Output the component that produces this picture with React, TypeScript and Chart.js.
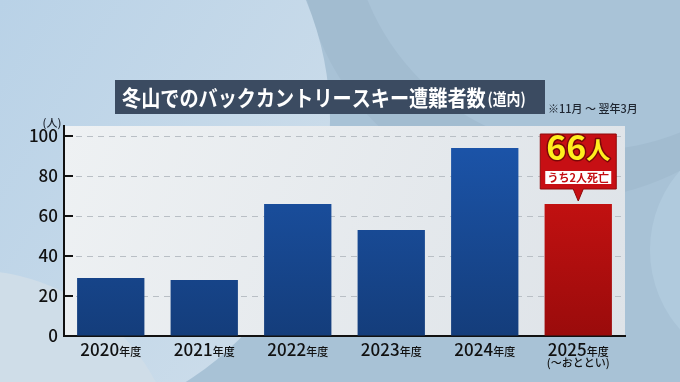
import React, { useEffect, useRef } from "react";
import { Chart, registerables } from "chart.js";

Chart.register(...registerables);

// ---- data ----
const categories = ["2020", "2021", "2022", "2023", "2024", "2025"];
const categorySuffix = "年度";
const subLabels = ["", "", "", "", "", "(〜おととい)"];
const values = [29, 28, 66, 53, 94, 66];
const yTickValues = [0, 20, 40, 60, 80, 100];
const titleMain = "冬山でのバックカントリースキー遭難者数";
const titleSub = "(道内)";
const noteText = "※11月 〜 翌年3月";
const unitLabel = "(人)";
const calloutValue = "66";
const calloutUnit = "人";
const calloutSub = "うち2人死亡";
const highlightIndex = 5;

const JP = '"Noto Sans CJK JP", "Noto Sans", sans-serif';

const bgPlugin = {
  id: "bgPlugin",
  beforeDraw(chart: any) {
    const ctx = chart.ctx as CanvasRenderingContext2D;
    const W = chart.width;
    const H = chart.height;
    ctx.save();
    ctx.fillStyle = "#a8c2d6";
    ctx.fillRect(0, 0, W, H);
    // right-top darker-ish sliver + lighter circle
    ctx.fillStyle = "#a2bcd0";
    ctx.beginPath();
    ctx.arc(560, -60, 260, 0, Math.PI * 2);
    ctx.fill();
    ctx.fillStyle = "#a9c3d7";
    ctx.beginPath();
    ctx.arc(590, -90, 240, 0, Math.PI * 2);
    ctx.fill();
    // right circle
    ctx.fillStyle = "#b0cadd";
    ctx.beginPath();
    ctx.arc(770, 250, 120, 0, Math.PI * 2);
    ctx.fill();
    // big light circle left
    const g1 = ctx.createLinearGradient(0, 0, 330, 200);
    g1.addColorStop(0, "#b9d2e7");
    g1.addColorStop(1, "#cbdcea");
    ctx.fillStyle = g1;
    ctx.beginPath();
    ctx.arc(20, 120, 310, 0, Math.PI * 2);
    ctx.fill();
    // lower-left light circle
    ctx.fillStyle = "#cfdde8";
    ctx.beginPath();
    ctx.arc(-30, 480, 210, 0, Math.PI * 2);
    ctx.fill();
    // plot panel
    const a = chart.chartArea;
    const pg = ctx.createLinearGradient(a.left, a.top, a.right, a.bottom);
    pg.addColorStop(0, "#eef1f3");
    pg.addColorStop(1, "#dee3e8");
    ctx.fillStyle = pg;
    ctx.fillRect(a.left, a.top, a.right - a.left, a.bottom - a.top);

    // title box
    ctx.fillStyle = "#3b4b61";
    ctx.fillRect(115, 80, 430, 34);
    ctx.fillStyle = "#ffffff";
    ctx.textBaseline = "middle";
    ctx.textAlign = "left";
    ctx.save();
    ctx.translate(122, 98);
    ctx.scale(0.87, 1);
    ctx.font = `bold 22px ${JP}`;
    ctx.fillText(titleMain, 0, 0);
    const w = ctx.measureText(titleMain).width;
    ctx.font = `bold 16px ${JP}`;
    ctx.fillText(titleSub, w + 2, 1);
    ctx.restore();

    // note
    ctx.fillStyle = "#1e2530";
    ctx.font = `500 11px ${JP}`;
    ctx.textBaseline = "alphabetic";
    ctx.fillText(noteText, 548, 113);

    // unit label
    ctx.font = `500 11px ${JP}`;
    ctx.textAlign = "center";
    ctx.fillText(unitLabel, 52, 127);
    ctx.restore();
  },
  afterDraw(chart: any) {
    const ctx = chart.ctx as CanvasRenderingContext2D;
    const a = chart.chartArea;
    const yS = chart.scales.y;
    const xS = chart.scales.x;
    ctx.save();
    // inner tick marks
    ctx.strokeStyle = "#111";
    ctx.lineWidth = 2;
    yTickValues.forEach((v) => {
      if (v === 0) return;
      const py = Math.round(yS.getPixelForValue(v));
      ctx.beginPath();
      ctx.moveTo(a.left, py);
      ctx.lineTo(a.left + 9, py);
      ctx.stroke();
    });

    // x labels
    categories.forEach((c, i) => {
      const px = xS.getPixelForTick(i);
      ctx.font = `500 17px ${JP}`;
      const w1 = ctx.measureText(c).width;
      ctx.font = `500 11px ${JP}`;
      const w2 = ctx.measureText(categorySuffix).width;
      const start = px - (w1 + w2) / 2;
      ctx.fillStyle = "#111";
      ctx.textBaseline = "alphabetic";
      ctx.textAlign = "left";
      ctx.font = `500 17px ${JP}`;
      ctx.fillText(c, start, 356);
      ctx.font = `500 11px ${JP}`;
      ctx.fillText(categorySuffix, start + w1, 356);
      if (subLabels[i]) {
        ctx.textAlign = "center";
        ctx.font = `500 11px ${JP}`;
        ctx.fillText(subLabels[i], px, 367);
      }
    });

    // callout
    const bar = chart.getDatasetMeta(0).data[highlightIndex];
    const bx = bar.x;
    const by = bar.y;
    const boxW = 76;
    const boxTop = by - 70;
    const boxBot = by - 15;
    ctx.fillStyle = "#c70f14";
    ctx.strokeStyle = "#8e0a0a";
    ctx.lineWidth = 1;
    ctx.beginPath();
    ctx.moveTo(bx - boxW / 2, boxTop);
    ctx.lineTo(bx + boxW / 2, boxTop);
    ctx.lineTo(bx + boxW / 2, boxBot);
    ctx.lineTo(bx + 5, boxBot);
    ctx.lineTo(bx, by - 3);
    ctx.lineTo(bx - 5, boxBot);
    ctx.lineTo(bx - boxW / 2, boxBot);
    ctx.closePath();
    ctx.fill();
    ctx.stroke();

    ctx.font = `bold 34px ${JP}`;
    const wv = ctx.measureText(calloutValue).width;
    ctx.font = `bold 24px ${JP}`;
    const wu = ctx.measureText(calloutUnit).width;
    const sx = bx - (wv + wu) / 2;
    ctx.textAlign = "left";
    ctx.textBaseline = "alphabetic";
    ctx.lineJoin = "round";
    ctx.strokeStyle = "#7a0808";
    ctx.lineWidth = 3;
    ctx.fillStyle = "#ffee1e";
    ctx.font = `bold 34px ${JP}`;
    ctx.strokeText(calloutValue, sx, boxTop + 26);
    ctx.fillText(calloutValue, sx, boxTop + 26);
    ctx.font = `bold 24px ${JP}`;
    ctx.strokeText(calloutUnit, sx + wv, boxTop + 25);
    ctx.fillText(calloutUnit, sx + wv, boxTop + 25);

    ctx.fillStyle = "#ffffff";
    ctx.fillRect(bx - 33, boxTop + 37, 66, 13);
    ctx.fillStyle = "#c40d12";
    ctx.font = `bold 11px ${JP}`;
    ctx.textAlign = "center";
    ctx.textBaseline = "middle";
    ctx.fillText(calloutSub, bx, boxTop + 44);
    ctx.restore();
  },
};

function barColor(ctx: any) {
  const chart = ctx.chart;
  const a = chart.chartArea;
  const red = ctx.dataIndex === highlightIndex;
  if (!a) return red ? "#c41010" : "#1a4f9e";
  const g = chart.ctx.createLinearGradient(0, a.top, 0, a.bottom);
  if (red) {
    g.addColorStop(0, "#d81414");
    g.addColorStop(1, "#9a0b0b");
  } else {
    g.addColorStop(0, "#1c56ad");
    g.addColorStop(1, "#143d7b");
  }
  return g;
}

export default function App() {
  const ref = useRef<HTMLCanvasElement | null>(null);
  useEffect(() => {
    document.body.style.margin = "0";
    const canvas = ref.current!;
    const chart = new Chart(canvas, {
      type: "bar",
      data: {
        labels: categories.map((c) => c + categorySuffix),
        datasets: [
          {
            data: values,
            backgroundColor: barColor,
            borderWidth: 0,
            barPercentage: 0.72,
            categoryPercentage: 1,
          },
        ],
      },
      options: {
        responsive: false,
        animation: false,
        devicePixelRatio: 1,
        layout: { padding: { top: 126, right: 55, left: 0, bottom: 0 } },
        plugins: {
          legend: { display: false },
          tooltip: { enabled: false },
          title: { display: false },
        },
        scales: {
          x: {
            grid: { display: false, drawTicks: false },
            border: { display: true, color: "#111", width: 2 },
            ticks: { display: false },
            afterFit: (s: any) => {
              s.height = 46;
            },
          },
          y: {
            min: 0,
            max: 105,
            ticks: {
              stepSize: 20,
              color: "#111",
              padding: 6,
              font: { family: JP, size: 17, weight: "500" as any },
            },
            afterBuildTicks: (s: any) => {
              s.ticks = yTickValues.map((v) => ({ value: v }));
            },
            grid: {
              color: (c: any) => (c.tick && c.tick.value === 0 ? "rgba(0,0,0,0)" : "#b9bfc5"),
              drawTicks: false,
              lineWidth: 1,
            },
            border: { display: true, color: "#111", width: 2, dash: [6, 5] } as any,
            afterFit: (s: any) => {
              s.width = 64;
            },
          },
        },
      },
      plugins: [bgPlugin],
    });
    return () => chart.destroy();
  }, []);
  return (
    <div style={{ position: "absolute", left: 0, top: 0, width: 680, height: 382 }}>
      <canvas ref={ref} width={680} height={382} style={{ width: 680, height: 382, display: "block" }} />
    </div>
  );
}
